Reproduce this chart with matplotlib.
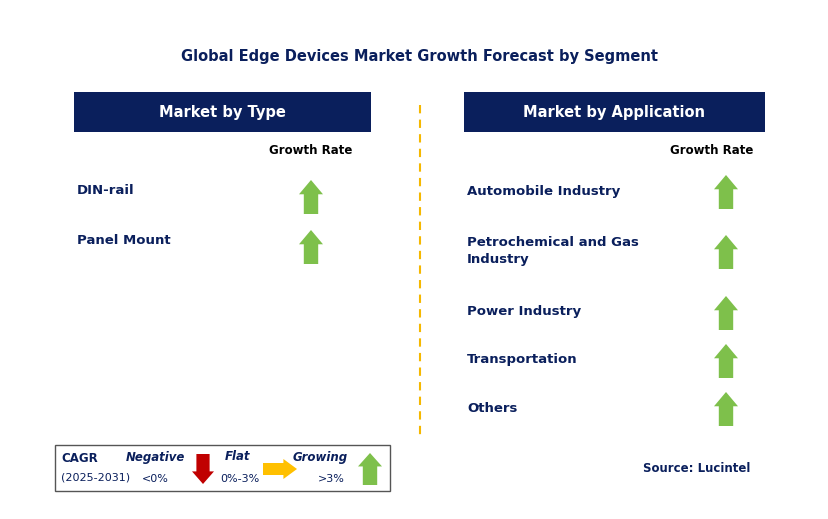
import matplotlib
matplotlib.use("Agg")
import matplotlib.pyplot as plt
from matplotlib.patches import Rectangle, Polygon

title = "Global Edge Devices Market Growth Forecast by Segment"
type_labels = ["DIN-rail", "Panel Mount"]
type_growth = ["up", "up"]
app_labels = ["Automobile Industry", "Petrochemical and Gas\nIndustry", "Power Industry", "Transportation", "Others"]
app_growth = ["up", "up", "up", "up", "up"]
type_y = [191, 241]
app_y = [191, 251, 312, 360, 408]

NAVY = "#0a1f5c"
GREEN = "#7ec04b"
RED = "#c00000"
ORANGE = "#ffc000"

fig = plt.figure(figsize=(8.29, 5.19), dpi=100)
ax = fig.add_axes([0, 0, 1, 1])
ax.set_xlim(0, 829); ax.set_ylim(519, 0); ax.axis("off")

def up_arrow(cx, cy, w=24, h=34, color=GREEN):
    hw = w / 2; sw = w * 0.3; hh = h * 0.42
    pts = [(cx, cy - h/2), (cx + hw, cy - h/2 + hh), (cx + sw, cy - h/2 + hh),
           (cx + sw, cy + h/2), (cx - sw, cy + h/2), (cx - sw, cy - h/2 + hh), (cx - hw, cy - h/2 + hh)]
    ax.add_patch(Polygon(pts, closed=True, color=color, lw=0))

def down_arrow(cx, cy, w=22, h=32, color=RED):
    hw = w / 2; sw = w * 0.3; hh = h * 0.42
    pts = [(cx, cy + h/2), (cx + hw, cy + h/2 - hh), (cx + sw, cy + h/2 - hh),
           (cx + sw, cy - h/2), (cx - sw, cy - h/2), (cx - sw, cy + h/2 - hh), (cx - hw, cy + h/2 - hh)]
    ax.add_patch(Polygon(pts, closed=True, color=color, lw=0))

def right_arrow(cx, cy, w=34, h=22, color=ORANGE):
    hh = h / 2; sh = h * 0.3; hw = w * 0.4
    pts = [(cx + w/2, cy), (cx + w/2 - hw, cy - hh), (cx + w/2 - hw, cy - sh), (cx - w/2, cy - sh),
           (cx - w/2, cy + sh), (cx + w/2 - hw, cy + sh), (cx + w/2 - hw, cy + hh)]
    ax.add_patch(Polygon(pts, closed=True, color=color, lw=0))

ax.text(420, 57, title, ha="center", va="center", fontsize=10.5, fontweight="bold", color=NAVY)

ax.add_patch(Rectangle((74, 92), 297, 40, color=NAVY, lw=0))
ax.text(222, 112, "Market by Type", ha="center", va="center", fontsize=10.5, fontweight="bold", color="white")
ax.add_patch(Rectangle((464, 92), 301, 40, color=NAVY, lw=0))
ax.text(614, 112, "Market by Application", ha="center", va="center", fontsize=10.5, fontweight="bold", color="white")

ax.plot([420, 420], [105, 437], ls=(0, (4, 3)), color="#f5b800", lw=1.5)

ax.text(311, 151, "Growth Rate", ha="center", va="center", fontsize=8.5, fontweight="bold", color="black")
ax.text(712, 151, "Growth Rate", ha="center", va="center", fontsize=8.5, fontweight="bold", color="black")

for lab, y, g in zip(type_labels, type_y, type_growth):
    ax.text(77, y, lab, ha="left", va="center", fontsize=9.5, fontweight="bold", color=NAVY)
    up_arrow(311, y + 6)
for lab, y, g in zip(app_labels, app_y, app_growth):
    ax.text(467, y, lab, ha="left", va="center", fontsize=9.5, fontweight="bold", color=NAVY, linespacing=1.5)
    up_arrow(726, y + 1)

ax.add_patch(Rectangle((55, 445), 335, 46, fill=False, ec="#555555", lw=1))
ax.text(61, 459, "CAGR", fontsize=8.5, fontweight="bold", color=NAVY, va="center")
ax.text(61, 478, "(2025-2031)", fontsize=8, color=NAVY, va="center")
ax.text(155, 457, "Negative", fontsize=8.5, fontweight="bold", style="italic", color=NAVY, ha="center", va="center")
ax.text(155, 479, "<0%", fontsize=8, color=NAVY, ha="center", va="center")
down_arrow(203, 469, w=22, h=30)
ax.text(238, 457, "Flat", fontsize=8.5, fontweight="bold", style="italic", color=NAVY, ha="center", va="center")
ax.text(240, 479, "0%-3%", fontsize=8, color=NAVY, ha="center", va="center")
right_arrow(280, 469, w=34, h=20)
ax.text(320, 457, "Growing", fontsize=8.5, fontweight="bold", style="italic", color=NAVY, ha="center", va="center")
ax.text(331, 479, ">3%", fontsize=8, color=NAVY, ha="center", va="center")
up_arrow(370, 469, w=24, h=32)

ax.text(750, 469, "Source: Lucintel", ha="right", va="center", fontsize=8.5, fontweight="bold", color=NAVY)

fig.savefig("out.png", dpi=100)
